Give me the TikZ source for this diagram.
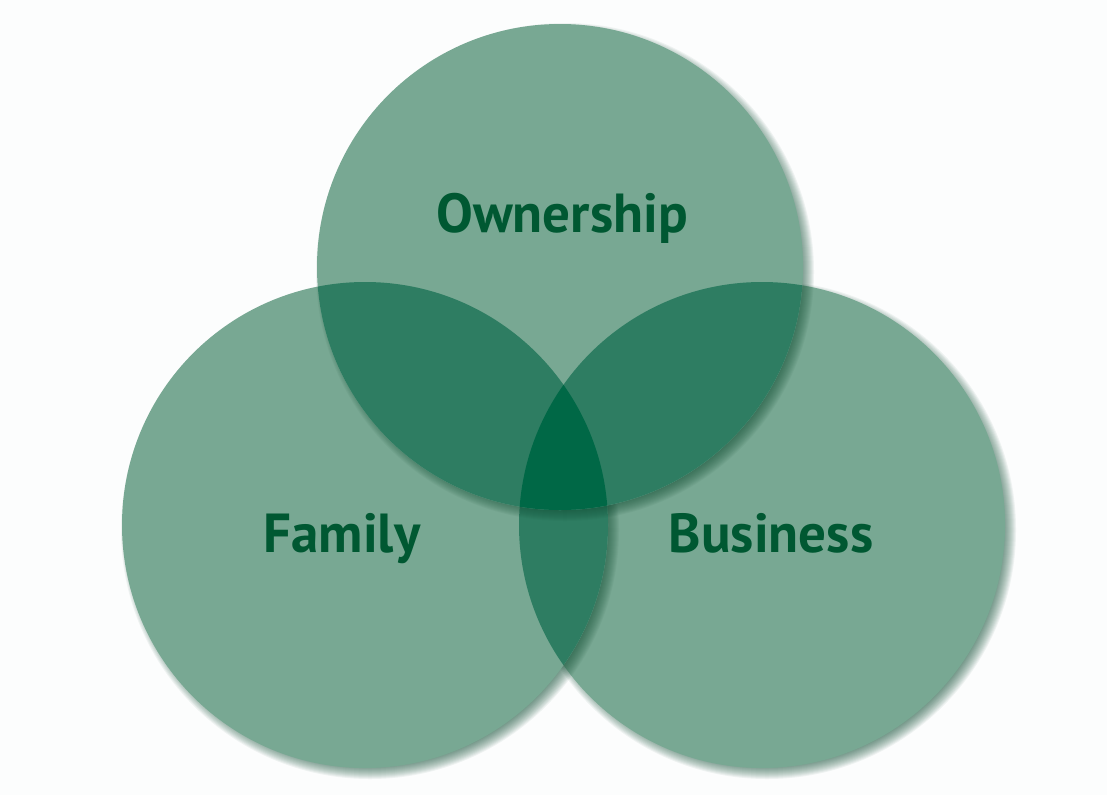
\documentclass[tikz,border=0pt]{standalone}
\usepackage{fontspec}
\setsansfont{PT Sans}
\usetikzlibrary{positioning}

\definecolor{venngreen}{RGB}{120,168,147}
\definecolor{venndouble}{RGB}{46,125,98}
\definecolor{venntriple}{RGB}{0,104,70}
\definecolor{venntext}{RGB}{0,88,50}
\definecolor{vennshadow}{RGB}{20,80,55}
\definecolor{paper}{RGB}{252,253,253}

\begin{document}
\begin{tikzpicture}[x=1pt,y=-1pt,
  vennlabel/.style={font=\sffamily\bfseries\fontsize{55}{60}\selectfont,
    text=venntext,anchor=base,inner sep=0pt},
  shadowring/.style={fill=vennshadow,opacity=0.06}]
\fill[paper] (0,0) rectangle (1107,795);
\useasboundingbox (0,0) rectangle (1107,795);
\def\r{243pt}
\coordinate (bus) at (762,525);
\coordinate (fam) at (365,525);
\coordinate (own) at (560,267);
% business circle (bottom layer)
\foreach \k in {1,...,14}
  \fill[shadowring] ([shift={(5,5)}]bus) circle[radius={\r+(7-\k)*1pt}];
\fill[venngreen] (bus) circle (\r);
% family circle
\foreach \k in {1,...,14}
  \fill[shadowring] ([shift={(5,5)}]fam) circle[radius={\r+(7-\k)*1pt}];
\fill[venngreen] (fam) circle (\r);
\begin{scope}
  \clip (fam) circle (\r);
  \fill[venndouble] (bus) circle (\r);
\end{scope}
% ownership circle (top layer)
\foreach \k in {1,...,14}
  \fill[shadowring] ([shift={(5,5)}]own) circle[radius={\r+(7-\k)*1pt}];
\fill[venngreen] (own) circle (\r);
\begin{scope}
  \clip (own) circle (\r);
  \fill[venndouble] (fam) circle (\r);
  \fill[venndouble] (bus) circle (\r);
  \clip (fam) circle (\r);
  \fill[venntriple] (bus) circle (\r);
\end{scope}
% labels
\node[vennlabel] (ownership) at (562,232) {Ownership};
\node[vennlabel] (family) at (342,552) {Family};
\node[vennlabel] (business) at (771,552) {Business};
\end{tikzpicture}
\end{document}
